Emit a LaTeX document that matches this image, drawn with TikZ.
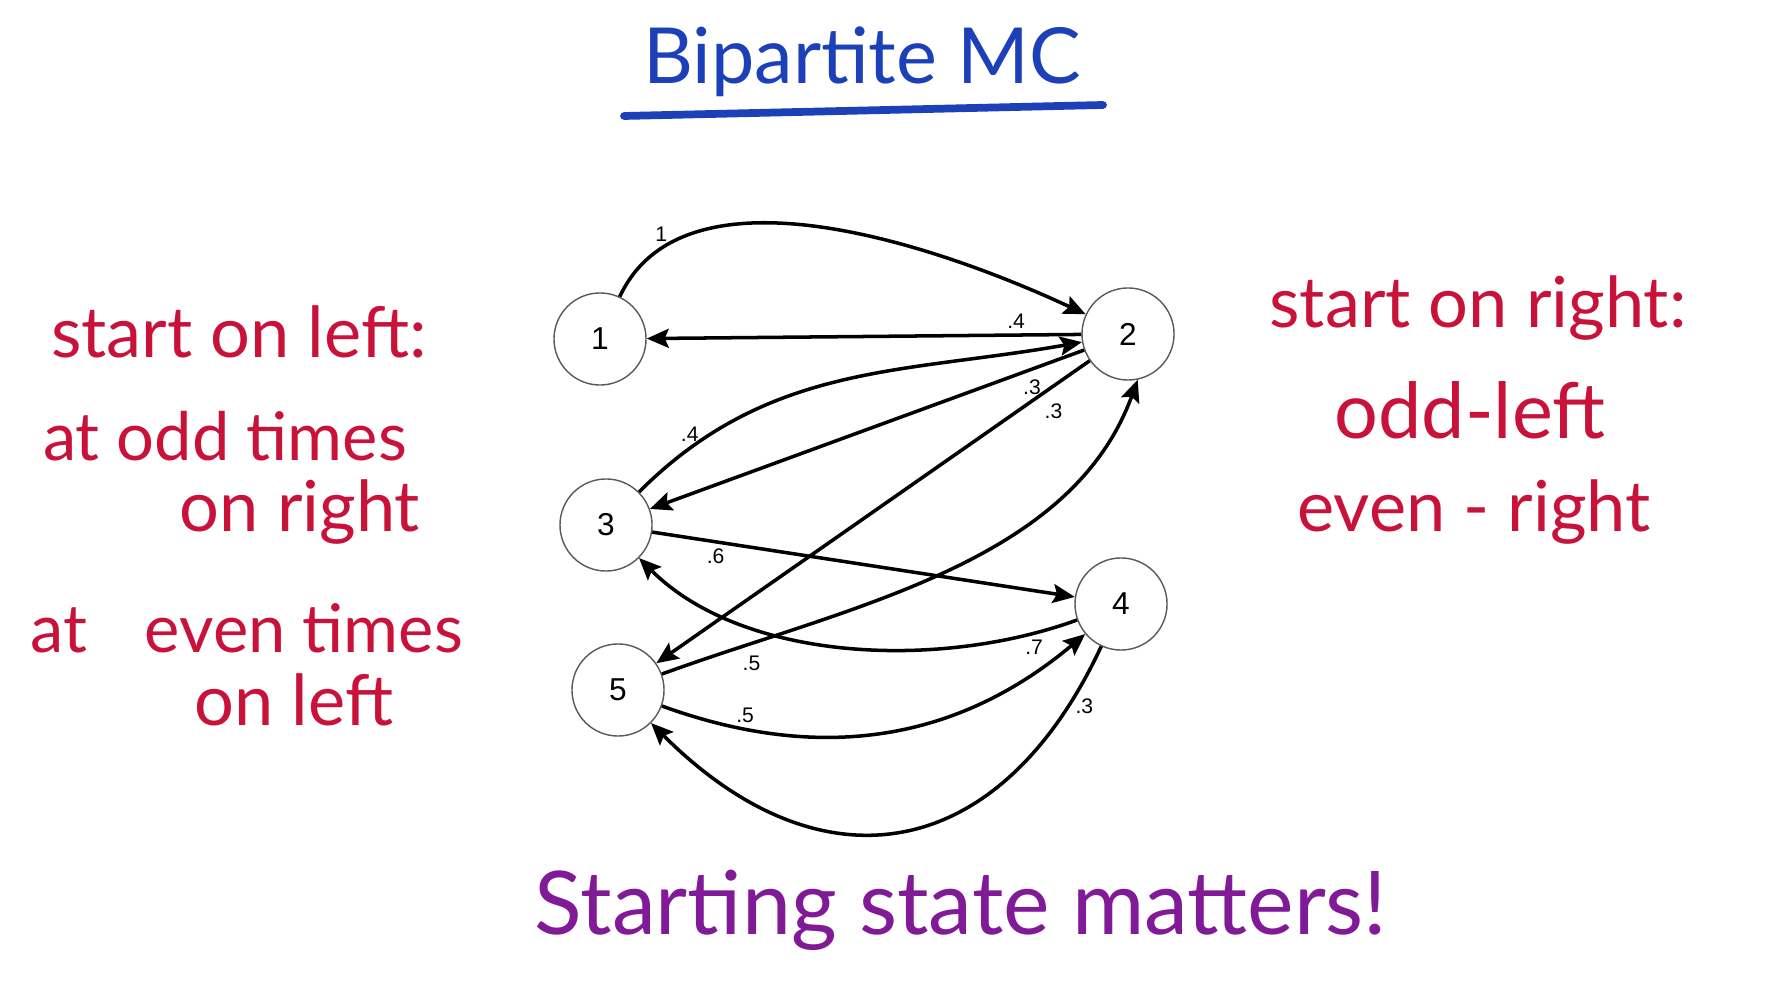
\documentclass[tikz,border=0pt]{standalone}
\usepackage{fontspec}
\setmainfont{Liberation Sans}
\newfontfamily\handfont{Lato}
\usetikzlibrary{arrows.meta}

\definecolor{titleblue}{RGB}{28,64,184}
\definecolor{inkred}{RGB}{200,18,58}
\definecolor{inkpurple}{RGB}{128,26,150}

\tikzset{
    state/.style={circle, draw=gray!70!black, thin, minimum size=0.92cm, inner sep=0pt, font=\fontsize{9}{9}\selectfont},
    trans/.style={-{Stealth[length=2.2mm, width=1.9mm, inset=0.4mm]}, line width=1pt},
    prob/.style={font=\fontsize{6}{6}\selectfont, inner sep=1.5pt},
    hand/.style={inner sep=0pt, font=\handfont\fontsize{20}{20}\selectfont},
}

\begin{document}
\begin{tikzpicture}[x=0.01cm, y=-0.01cm]
            \useasboundingbox (0,0) rectangle (1786,1007);

            % 1. Cím aláhúzással
            \node[hand, text=titleblue, font=\handfont\fontsize{22}{22}\selectfont] (title) at (862,62) {Bipartite MC};
            \draw[titleblue, line width=2.2pt, line cap=round] (624,116) -- (1103,105);

            % 2. Állapotok (s-sorszám)
            \foreach \n/\x/\y in {1/600/339, 2/1128/334, 3/606/525, 4/1121/604, 5/618/690} {
                \node[state] (s\n) at (\x,\y) {\n};
            }

            % 3. Átmenetek
            \draw[trans] (s1) to[out=65, in=155, looseness=0.85] node[prob, pos=0.15, above] {1} (s2);
            \draw[trans] (s2) -- node[prob, pos=0.15, above] {.4} (s1);
            \draw[trans] (s3) to[out=45, in=190] node[prob, pos=0.13, above] {.4} (s2);
            \draw[trans] (s2) -- node[prob, pos=0.12, below, inner sep=2.5pt] {.3} (s3);
            \draw[trans] (s2) -- node[prob, pos=0.12, below right] {.3} (s5);
            \draw[trans] (s5) to[out=20, in=250, looseness=0.9] node[prob, pos=0.13, below right] {.5} (s2.282);
            \draw[trans] (s3) -- node[prob, pos=0.15, below] {.6} (s4);
            \draw[trans] (s4) to[out=200, in=-45, looseness=0.85] node[prob, pos=0.1, below] {.7} (s3);
            \draw[trans] (s5) to[out=-20, in=220] node[prob, pos=0.18, above] {.5} (s4);
            \draw[trans] (s4) to[out=245, in=-45, looseness=1.35] node[prob, pos=0.1, right] {.3} (s5);

            % 4. Megjegyzések
            \node[hand, text=inkred] (lstart) at (239,332) {start on left:};
            \node[hand, text=inkred, font=\handfont\fontsize{19}{19}\selectfont] (lodd) at (225,436) {at odd times};
            \node[hand, text=inkred] (lright) at (300,512) {on right};
            \node[hand, text=inkred, font=\handfont\fontsize{19}{19}\selectfont] (leven) at (247,628) {at\hspace{0.6em} even times};
            \node[hand, text=inkred] (lleft) at (294,700) {on left};

            \node[hand, text=inkred] (rstart) at (1478,308) {start on right:};
            \node[hand, text=inkred, font=\handfont\fontsize{22}{22}\selectfont] (rodd) at (1470,410) {odd-left};
            \node[hand, text=inkred] (reven) at (1474,512) {even - right};

            \node[hand, text=inkpurple, font=\handfont\fontsize{25}{25}\selectfont] (moral) at (961,910) {Starting state matters!};
        \end{tikzpicture}
\end{document}
